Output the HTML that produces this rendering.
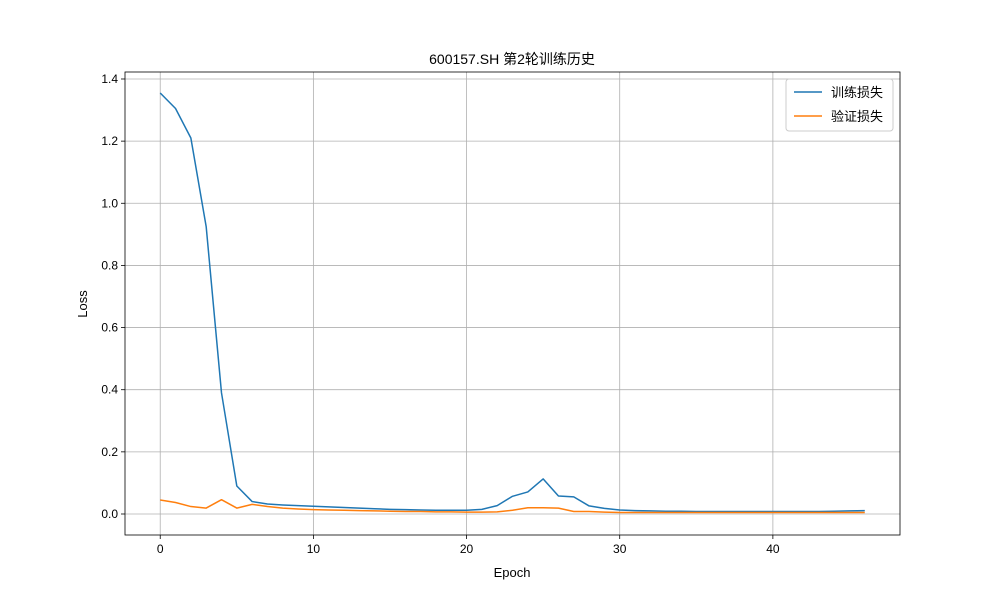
<!DOCTYPE html>
<html><head><meta charset="utf-8"><style>
body{margin:0;background:#fff}
svg{font-family:"Liberation Sans","Noto Sans CJK SC",sans-serif}
</style></head><body>
<svg id="c" width="1000" height="600"></svg>
<script>
const epochs=[...Array(47).keys()];
const trainLoss=[1.355,1.305,1.21,0.925,0.39,0.09,0.04,0.032,0.029,0.027,0.025,0.023,0.021,0.019,0.017,0.015,0.014,0.013,0.012,0.012,0.012,0.015,0.027,0.057,0.071,0.113,0.058,0.055,0.026,0.018,0.013,0.011,0.010,0.009,0.009,0.008,0.008,0.008,0.008,0.008,0.008,0.008,0.008,0.008,0.009,0.010,0.011];
const valLoss=[0.045,0.037,0.024,0.019,0.046,0.019,0.031,0.024,0.019,0.016,0.014,0.013,0.012,0.011,0.010,0.009,0.008,0.008,0.007,0.007,0.006,0.006,0.007,0.012,0.020,0.020,0.019,0.008,0.008,0.006,0.005,0.005,0.005,0.005,0.005,0.005,0.005,0.005,0.005,0.005,0.005,0.005,0.005,0.005,0.005,0.005,0.005];
const xTicks=[0,10,20,30,40];
const yTicks=[0,0.2,0.4,0.6,0.8,1.0,1.2,1.4];
const yLabels=["0.0","0.2","0.4","0.6","0.8","1.0","1.2","1.4"];
const L=125,R=900,T=72,B=535;
const xMin=-2.3,xMax=48.3,yMin=-0.0676,yMax=1.4225;
const sx=v=>L+(v-xMin)/(xMax-xMin)*(R-L);
const sy=v=>B-(v-yMin)/(yMax-yMin)*(B-T);
const svg=document.getElementById('c');
const NS='http://www.w3.org/2000/svg';
function mk(tag,attrs,parent){const e=document.createElementNS(NS,tag);for(const k in attrs)e.setAttribute(k,attrs[k]);(parent||svg).appendChild(e);return e;}
xTicks.forEach(t=>{const x=sx(t);
 const g=mk('line',{x1:x,x2:x,y1:T,y2:B,stroke:'#b0b0b0','stroke-width':0.8});
 
 
 mk('line',{x1:x,x2:x,y1:B,y2:B+4,stroke:'#000','stroke-width':0.8});
 const tx=mk('text',{x:x,y:B+18,'text-anchor':'middle','font-size':12});tx.textContent=t;
 
 
});
yTicks.forEach((t,i)=>{const y=sy(t);
 const g=mk('line',{x1:L,x2:R,y1:y,y2:y,stroke:'#b0b0b0','stroke-width':0.8});
 
 
 mk('line',{x1:L-4,x2:L,y1:y,y2:y,stroke:'#000','stroke-width':0.8});
 const tx=mk('text',{x:L-7,y:y+4,'text-anchor':'end','font-size':12});tx.textContent=yLabels[i];
 
 
});
function line(data,color,name){const p=mk('polyline',{points:data.map((v,i)=>sx(epochs[i])+','+sy(v)).join(' '),fill:'none',stroke:color,'stroke-width':1.5,'stroke-linejoin':'round'});
 
 }
line(trainLoss,'#1f77b4','train-loss-line');
line(valLoss,'#ff7f0e','val-loss-line');
mk('rect',{x:L,y:T,width:R-L,height:B-T,fill:'none',stroke:'#000','stroke-width':0.8});
</script>
<svg width="1000" height="600" style="position:absolute;left:0;top:0" font-family="Liberation Sans,Noto Sans CJK SC,sans-serif">
<text x="512" y="64" text-anchor="middle" font-size="14">600157.SH 第2轮训练历史</text>
<text x="512" y="577" text-anchor="middle" font-size="13">Epoch</text>
<text x="87" y="304" text-anchor="middle" font-size="13" transform="rotate(-90 87 304)">Loss</text>
<g>
<rect x="786" y="79" width="107" height="52" rx="3" fill="#fff" fill-opacity="0.8" stroke="#ccc"/>
<line x1="794" x2="822" y1="92" y2="92" stroke="#1f77b4" stroke-width="1.5"/>
<text x="831" y="97" font-size="13">训练损失</text>
<line x1="794" x2="822" y1="116" y2="116" stroke="#ff7f0e" stroke-width="1.5"/>
<text x="831" y="121" font-size="13">验证损失</text>
</g>
</svg>
</body></html>
